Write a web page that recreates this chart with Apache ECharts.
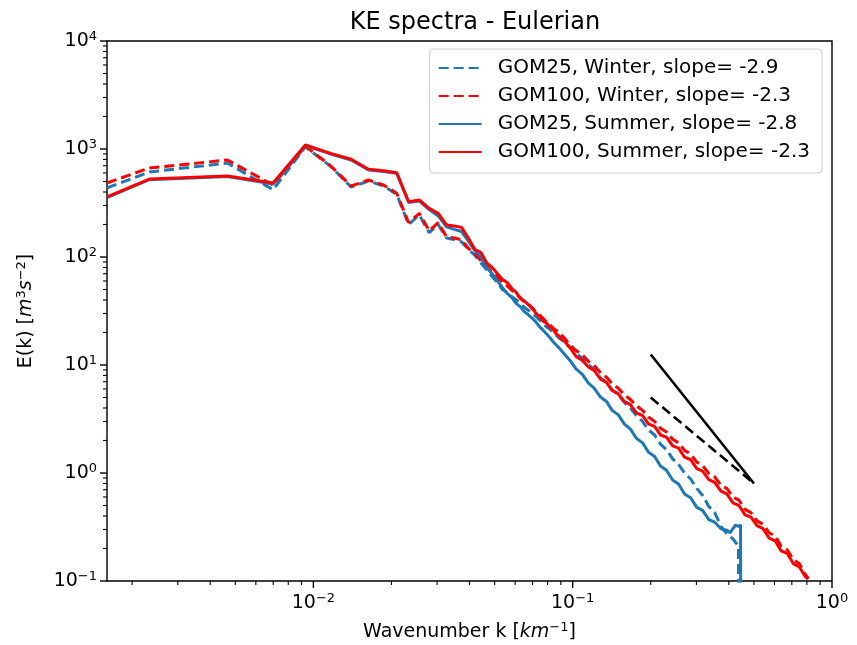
<!DOCTYPE html>
<html>
<head>
<meta charset="utf-8">
<script src="https://cdn.jsdelivr.net/npm/echarts@6/dist/echarts.min.js"></script>
<style>
html, body { margin: 0; padding: 0; background: #fff; }
#chart { width: 857px; height: 645px; }
</style>
</head>
<body>
<div id="chart"></div>
<script>
// wavenumber grid of the large scales (shared by all four spectra)
var kLow = [0.0016, 0.00233, 0.00466, 0.00699, 0.00932, 0.01165, 0.01398, 0.01631, 0.01864, 0.02097,
    0.0233, 0.02563, 0.02796, 0.03029, 0.03262, 0.03495, 0.03728, 0.0396, 0.0419, 0.0443,
    0.0466, 0.0489, 0.0513, 0.0536, 0.0559, 0.0583, 0.0606, 0.0629, 0.0652, 0.0676,
    0.0699, 0.0722, 0.0746, 0.0769, 0.0792, 0.0816, 0.0839, 0.0862, 0.0886, 0.0909, 0.0932];

// small scales, GOM100 goes out to ~0.8
var kHigh100 = [0.098, 0.103, 0.109, 0.115, 0.121, 0.128, 0.135, 0.142, 0.150, 0.158,
    0.167, 0.176, 0.186, 0.196, 0.207, 0.218, 0.230, 0.243, 0.256, 0.270,
    0.285, 0.301, 0.317, 0.335, 0.353, 0.373, 0.393, 0.415, 0.438, 0.462,
    0.487, 0.514, 0.542, 0.572, 0.604, 0.637, 0.672, 0.709, 0.748, 0.789, 0.81];
// GOM25 stops near 0.44
var kHigh25w = [0.098, 0.103, 0.109, 0.115, 0.121, 0.128, 0.135, 0.142, 0.150, 0.158,
    0.167, 0.176, 0.186, 0.196, 0.207, 0.218, 0.230, 0.243, 0.256, 0.270,
    0.285, 0.301, 0.317, 0.335, 0.353, 0.373, 0.393, 0.415, 0.436, 0.4365];
var kHigh25s = [0.098, 0.103, 0.109, 0.115, 0.121, 0.128, 0.135, 0.142, 0.150, 0.158,
    0.167, 0.176, 0.186, 0.196, 0.207, 0.218, 0.230, 0.243, 0.256, 0.270,
    0.285, 0.301, 0.317, 0.335, 0.353, 0.373, 0.393, 0.405, 0.415, 0.425, 0.435, 0.444, 0.4445];

// E(k) values
var gom25WinterLow = [437, 612, 742, 420, 1050, 690, 445, 505, 455, 380,
    200, 245, 168, 200, 150, 145, 138, 118, 104, 88,
    76, 66, 58, 50, 47, 43, 40, 37, 34, 32,
    30, 28, 26, 24.5, 22.5, 21.5, 20, 19, 17.8, 17, 16];
var gom25WinterHigh = [14.5, 12.8, 11.5, 10.0, 9.2, 7.6, 6.9, 5.9, 5.3, 4.5,
    4.0, 3.4, 3.0, 2.5, 2.25, 1.85, 1.65, 1.35, 1.2, 1.0,
    0.88, 0.72, 0.62, 0.49, 0.43, 0.32, 0.275, 0.245, 0.21, 0.02];

var gom100WinterLow = [484, 667, 791, 464, 1060, 700, 454, 516, 464, 389,
    208, 254, 175, 208, 154, 150, 144, 120, 108, 92,
    82, 72, 66, 58, 54, 49, 45, 42, 38, 36.5,
    33, 31, 29, 27, 25, 23.8, 22, 21, 19.8, 18.8, 17.6];
var gom100WinterHigh = [15.2, 13.6, 12.4, 10.8, 9.9, 8.5, 7.7, 6.7, 6.1, 5.3,
    4.8, 4.2, 3.8, 3.3, 3.0, 2.6, 2.4, 2.05, 1.9, 1.62,
    1.5, 1.26, 1.17, 0.99, 0.92, 0.77, 0.72, 0.6, 0.56, 0.46,
    0.43, 0.36, 0.335, 0.28, 0.26, 0.21, 0.195, 0.158, 0.145, 0.115, 0.106];

var gom25SummerLow = [355, 520, 555, 475, 1070, 900, 790, 640, 620, 595,
    320, 330, 275, 240, 190, 180, 172, 140, 115, 100,
    80, 70, 60, 52, 46, 42, 37, 34.5, 31, 29,
    27, 25, 22.5, 21, 19.5, 18, 16.5, 15.4, 14.4, 13.4, 12.5];
var gom25SummerHigh = [10.9, 9.2, 8.2, 6.8, 6.1, 5.05, 4.6, 3.8, 3.45, 2.85,
    2.55, 2.1, 1.9, 1.56, 1.42, 1.16, 1.06, 0.86, 0.79, 0.64,
    0.59, 0.48, 0.45, 0.37, 0.35, 0.305, 0.295, 0.28, 0.305, 0.33, 0.32, 0.33, 0.02];

var gom100SummerLow = [360, 527, 562, 484, 1090, 912, 804, 649, 630, 603,
    325, 337, 282, 254, 198, 194, 188, 150, 118, 110,
    88, 80, 70, 62, 58, 51, 47, 41, 39, 36,
    34, 30, 28, 25.5, 24.5, 22.5, 21.5, 19.5, 18.6, 17.4, 16.5];
var gom100SummerHigh = [14.3, 12.0, 11.0, 9.6, 8.9, 7.4, 6.9, 5.8, 5.4, 4.6,
    4.3, 3.6, 3.4, 2.85, 2.7, 2.25, 2.15, 1.78, 1.7, 1.4,
    1.33, 1.1, 1.04, 0.87, 0.82, 0.68, 0.64, 0.53, 0.5, 0.41,
    0.39, 0.325, 0.305, 0.25, 0.235, 0.19, 0.18, 0.145, 0.135, 0.11, 0.104];

// reference slopes (k^-3 solid, k^-2 dashed)
var refK = [0.2, 0.5];
var refSteep = [12.5, 0.8];
var refShallow = [5, 0.8];

var seriesNames = ['GOM25, Winter, slope= -2.9', 'GOM100, Winter, slope= -2.3',
    'GOM25, Summer, slope= -2.8', 'GOM100, Summer, slope= -2.3'];

// axis limits and ticks
var xMin = 0.0016, xMax = 1;
var yMin = 0.1, yMax = 10000;
var xMajor = [0.01, 0.1, 1];
var xMinor = [0.002, 0.003, 0.004, 0.005, 0.006, 0.007, 0.008, 0.009,
    0.02, 0.03, 0.04, 0.05, 0.06, 0.07, 0.08, 0.09,
    0.2, 0.3, 0.4, 0.5, 0.6, 0.7, 0.8, 0.9];
var yMajor = [0.1, 1, 10, 100, 1000, 10000];
var yMinor = [0.2, 0.3, 0.4, 0.5, 0.6, 0.7, 0.8, 0.9,
    2, 3, 4, 5, 6, 7, 8, 9,
    20, 30, 40, 50, 60, 70, 80, 90,
    200, 300, 400, 500, 600, 700, 800, 900,
    2000, 3000, 4000, 5000, 6000, 7000, 8000, 9000];

var FONT = 'DejaVu Sans';
var BLUE = '#1f77b4', RED = '#ff0000';

function pairs(ks, es) {
    var out = [];
    for (var i = 0; i < ks.length; i++) out.push([ks[i], es[i]]);
    return out;
}

function decadeLabel(v) {
    var lg = Math.log(v) / Math.LN10;
    var e = Math.round(lg);
    if (Math.abs(lg - e) > 0.01) return '';
    return '{b|10}{s|' + (e < 0 ? '\u2212' + (-e) : e) + '}';
}

var supRich = {
    b: { fontSize: 19, fontFamily: FONT, color: '#000' },
    s: { fontSize: 13, fontFamily: FONT, color: '#000', padding: [0, 0, 9, 0] },
    i: { fontSize: 19, fontFamily: FONT, color: '#000', fontStyle: 'italic' }
};

function tickData(vals, onX, major) {
    return vals.map(function (v) { return onX ? [v, yMin, major] : [xMin, v, major]; });
}

function tickSeries(onX) {
    var data = onX ? tickData(xMajor, true, 1).concat(tickData(xMinor, true, 0))
                   : tickData(yMajor, false, 1).concat(tickData(yMinor, false, 0));
    return {
        type: 'custom',
        silent: true,
        clip: false,
        z: 10,
        encode: { x: 0, y: 1 },
        data: data,
        renderItem: function (params, api) {
            var p = api.coord([api.value(0), api.value(1)]);
            var len = api.value(2) ? 7 : 4;
            var shape = onX ? { x1: p[0], y1: p[1], x2: p[0], y2: p[1] + len }
                            : { x1: p[0], y1: p[1], x2: p[0] - len, y2: p[1] };
            return { type: 'line', shape: shape, style: { stroke: '#000', lineWidth: api.value(2) ? 1.4 : 1.1 } };
        }
    };
}

function spectrum(name, ks, es, color, dashed) {
    return {
        name: name,
        type: 'line',
        data: pairs(ks, es),
        symbol: 'none',
        showSymbol: false,
        clip: true,
        lineStyle: { color: color, width: 3, type: dashed ? [10, 5] : 'solid' },
        itemStyle: { color: color }
    };
}

var chart = echarts.init(document.getElementById('chart'));
chart.setOption({
    animation: false,
    backgroundColor: '#fff',
    title: {
        text: 'KE spectra - Eulerian',
        left: 470,
        textAlign: 'center',
        top: 6,
        textStyle: { fontFamily: FONT, fontSize: 24, fontWeight: 'normal', color: '#000' }
    },
    legend: {
        data: seriesNames,
        orient: 'vertical',
        right: 35,
        top: 49,
        padding: [9, 12, 11, 8],
        itemGap: 8,
        itemWidth: 43,
        itemHeight: 14,
        selectedMode: false,
        backgroundColor: 'rgba(255,255,255,0.8)',
        borderColor: '#cccccc',
        borderWidth: 1,
        borderRadius: 4,
        itemStyle: { opacity: 0 },
        textStyle: { fontFamily: FONT, fontSize: 20, color: '#000', padding: [0, 0, 0, 11] }
    },
    grid: {
        left: 107, right: 25, top: 41, bottom: 64,
        show: true, borderColor: '#000', borderWidth: 1.4,
        containLabel: false, outerBoundsMode: 'none'
    },
    xAxis: {
        type: 'log', logBase: 10, min: xMin, max: xMax,
        axisLine: { show: false },
        axisTick: { show: false },
        splitLine: { show: false },
        axisLabel: { margin: 11, formatter: decadeLabel, rich: supRich, showMinLabel: true },
        name: 'Wavenumber k [{i|km}{s|\u22121}]',
        nameLocation: 'middle',
        nameGap: 40,
        nameTextStyle: { fontFamily: FONT, fontSize: 19, color: '#000', rich: supRich }
    },
    yAxis: {
        type: 'log', logBase: 10, min: yMin, max: yMax,
        axisLine: { show: false },
        axisTick: { show: false },
        splitLine: { show: false },
        axisLabel: { margin: 10, formatter: decadeLabel, rich: supRich },
        name: 'E(k) [{i|m}{s|3}{i|s}{s|\u22122}]',
        nameLocation: 'middle',
        nameRotate: 90,
        nameGap: 70,
        nameTextStyle: { fontFamily: FONT, fontSize: 19, color: '#000', rich: supRich }
    },
    series: [
        spectrum(seriesNames[0], kLow.concat(kHigh25w), gom25WinterLow.concat(gom25WinterHigh), BLUE, true),
        spectrum(seriesNames[1], kLow.concat(kHigh100), gom100WinterLow.concat(gom100WinterHigh), RED, true),
        spectrum(seriesNames[2], kLow.concat(kHigh25s), gom25SummerLow.concat(gom25SummerHigh), BLUE, false),
        spectrum(seriesNames[3], kLow.concat(kHigh100), gom100SummerLow.concat(gom100SummerHigh), RED, false),
        {
            type: 'line', data: pairs(refK, refSteep), symbol: 'none', silent: true,
            lineStyle: { color: '#000', width: 2.6 }
        },
        {
            type: 'line', data: pairs(refK, refShallow), symbol: 'none', silent: true,
            lineStyle: { color: '#000', width: 2.6, type: [10, 5] }
        },
        tickSeries(true),
        tickSeries(false)
    ]
});
</script>
</body>
</html>
